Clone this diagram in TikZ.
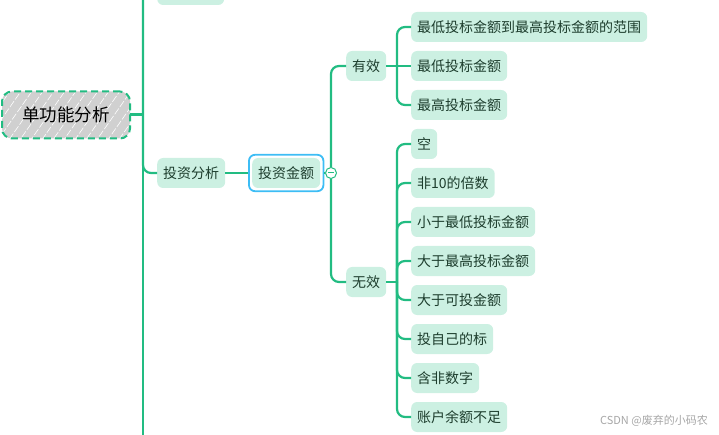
\documentclass[tikz,border=0pt]{standalone}
\usepackage{fontspec}
\setmainfont{Noto Sans CJK SC}
\usetikzlibrary{patterns.meta,fit}
\definecolor{lg}{HTML}{22BC82}
\definecolor{mint}{HTML}{CCF0E2}
\definecolor{txt}{HTML}{1D3D2D}
\definecolor{sel}{HTML}{3DBDF5}
\definecolor{rootgray}{HTML}{D0D0D0}
\begin{document}
\begin{tikzpicture}[x=1pt,y=-1pt,
  leaf/.style={fill=mint, rounded corners=6pt, minimum height=30pt, inner xsep=6pt, inner ysep=0pt,
    text=txt, font=\fontsize{14}{16}\selectfont, anchor=west},
  conn/.style={draw=lg, line width=2.2pt, rounded corners=8pt},
]
\clip (0,0) rectangle (719,435);
% trunk
\coordinate (ttop) at (143,-20);
\coordinate (tbot) at (143,440);
\coordinate (t) at (143,115);
\draw[lg, line width=2.6pt] (ttop) -- (tbot);
% root
\node[minimum width=128pt, minimum height=47pt, rounded corners=10pt, draw=lg, line width=2pt,
  dash pattern=on 7pt off 4pt,
  preaction={fill=rootgray},
  pattern={Lines[angle=55, distance=9pt, line width=0.6pt]}, pattern color=white,
  font=\fontsize{17.5}{20}\selectfont] (root) at (66,115) {单功能分析};
\draw[lg, line width=3pt] (root.east) -- (t);
% top (cut) node
\node[leaf, minimum width=67pt] (top) at (157,-10) {};
\draw[conn] (t) |- (top.west);
% invest analysis
\node[leaf] (ia) at (157,173) {投资分析};
\draw[conn] (t) |- (ia.west);
\node[leaf] (jj) at (252,173) {投资金额};
\node[fit=(jj), inner sep=3pt, draw=sel, line width=1.8pt, rounded corners=6pt] (jjsel) {};
\draw[lg, line width=2.2pt] (ia.east) -- (jjsel.west);
\node[circle, draw=lg, fill=white, line width=1pt, minimum size=11pt, inner sep=0pt,
  path picture={\draw[lg, line width=1pt] ([xshift=-3pt]path picture bounding box.center) -- ([xshift=3pt]path picture bounding box.center);}] (cc) at (331,173) {};
\draw[lg, line width=2.2pt] (jjsel.east) -- (cc.west);
% valid / invalid
\node[leaf] (yx) at (346,66) {有效};
\node[leaf] (wx) at (346,282) {无效};
\draw[conn] (cc.north) |- (yx.west);
\draw[conn] (cc.south) |- (wx.west);
% valid children
\coordinate (yxj) at (397,66);
\draw[lg, line width=2.6pt] (yx.east) -- (yxj);
\node[leaf] (v1) at (411,27) {最低投标金额到最高投标金额的范围};
\node[leaf] (v2) at (411,66) {最低投标金额};
\node[leaf] (v3) at (411,105) {最高投标金额};
\draw[conn] (yxj) |- (v1.west);
\draw[conn] (yxj) -- (v2.west);
\draw[conn] (yxj) |- (v3.west);
% invalid children
\coordinate (wxj) at (397,282);
\draw[lg, line width=2.6pt] (wx.east) -- (wxj);
\node[leaf] (i1) at (411,144) {空};
\node[leaf] (i2) at (411,183) {非10的倍数};
\node[leaf] (i3) at (411,222) {小于最低投标金额};
\node[leaf] (i4) at (411,261) {大于最高投标金额};
\node[leaf] (i5) at (411,300) {大于可投金额};
\node[leaf] (i6) at (411,339) {投自己的标};
\node[leaf] (i7) at (411,378) {含非数字};
\node[leaf] (i8) at (411,417) {账户余额不足};
\foreach \n in {i1,i2,i3,i4,i5,i6,i7,i8}{
  \draw[conn] (wxj) |- (\n.west);
}
% watermark
\node[anchor=east, text=black!35, font=\fontsize{11}{13}\selectfont, inner sep=0pt] (wm) at (708,421) {CSDN @废弃的小码农};
\end{tikzpicture}
\end{document}
